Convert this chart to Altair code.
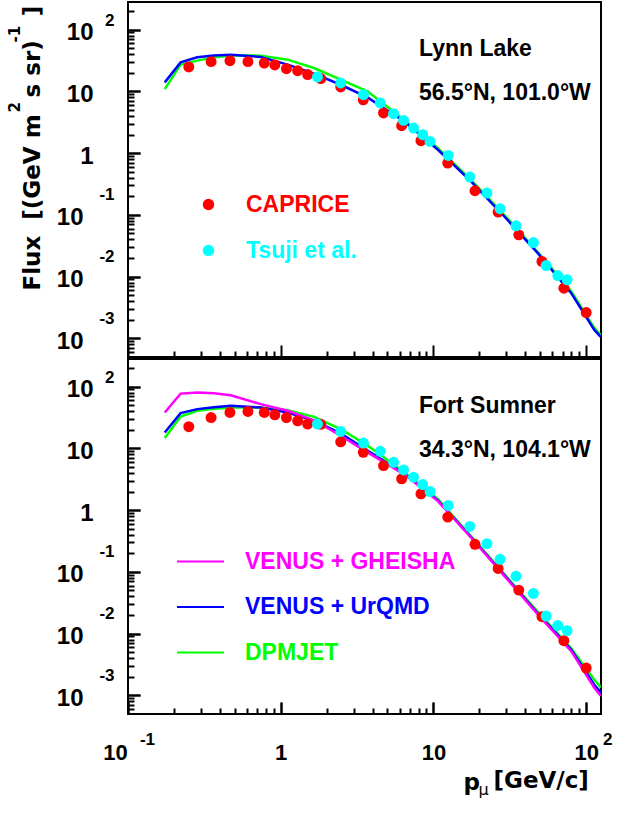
import altair as alt
import pandas as pd

FONT = "Liberation Sans"
TFONT = "DejaVu Sans"

# ---------------- data ----------------
caprice_p = [0.25, 0.35, 0.465, 0.61, 0.78, 0.915, 1.09, 1.29, 1.50, 1.83, 2.47, 3.47,
             4.71, 6.19, 8.28, 12.4, 18.7, 26.5, 36.2, 51.3, 71.4, 100]
caprice_lynn = [24.9, 30.3, 31.4, 30.3, 28.8, 26.8, 23.3, 21.6, 18.7, 16.1, 11.8, 7.3,
                4.47, 2.78, 1.59, 0.690, 0.246, 0.111, 0.0475, 0.0176, 0.00651, 0.00262]
caprice_fort = [22.4, 31.6, 38.1, 39.6, 38.1, 35.0, 31.6, 28.0, 24.8, 24.5, 12.8, 8.62,
                5.26, 3.21, 1.84, 0.771, 0.280, 0.1135, 0.0507, 0.0188, 0.0077, 0.00277]

tsuji_p = [1.74, 2.47, 3.48, 4.48, 5.48, 6.38, 7.41, 8.50, 9.49, 12.5, 17.3, 22.4,
           27.3, 34.7, 45.1, 54.7, 65.2, 75.0]
tsuji_lynn = [17.1, 13.7, 8.84, 6.49, 4.35, 3.39, 2.55, 1.99, 1.55, 0.918, 0.410, 0.226,
              0.126, 0.0666, 0.0357, 0.0151, 0.0104, 0.00888]
tsuji_fort = [24.8, 18.8, 12.2, 8.95, 5.94, 4.48, 3.41, 2.60, 2.00, 1.19, 0.546, 0.287,
              0.160, 0.0853, 0.0448, 0.0193, 0.0135, 0.0112]

model_p = [0.174, 0.221, 0.284, 0.365, 0.47, 0.74, 1.11, 1.65, 2.47, 3.70, 6.44, 10.7,
           17.6, 29.1, 48.2, 79.8, 113, 125]
urqmd_lynn = [14.0, 29.5, 35.6, 38.0, 39.3, 36.1, 27.1, 19.4, 12.8, 8.0, 3.26, 1.135,
              0.348, 0.0942, 0.0240, 0.00541, 0.00137, 0.00105]
dpmjet_lynn = [10.9, 27.1, 31.5, 35.5, 38.5, 37.9, 32.6, 23.9, 15.5, 10.0, 3.45, 1.20,
               0.37, 0.10, 0.025, 0.0058, 0.00148, 0.00112]
gheisha_fort = [38.1, 77.1, 80.0, 78.3, 72.6, 52.0, 40.6, 28.5, 16.0, 8.62, 3.8, 1.40,
                0.36, 0.086, 0.0205, 0.0052, 0.00133, 0.00098]
urqmd_fort = [18.1, 37.2, 43.2, 46.5, 48.8, 45.9, 38.1, 28.0, 17.5, 9.18, 3.87, 1.43,
              0.367, 0.0885, 0.0213, 0.00546, 0.00149, 0.00112]
dpmjet_fort = [14.7, 32.8, 40.6, 44.0, 45.9, 45.9, 41.6, 32.4, 20.6, 11.1, 4.1, 1.50,
               0.38, 0.092, 0.0225, 0.0058, 0.00179, 0.00135]

MODEL_NAMES = ["VENUS + GHEISHA", "VENUS + UrQMD", "DPMJET"]
MODEL_COLORS = ["#ff00ff", "#0000ff", "#00ff00"]
DATA_NAMES = ["CAPRICE", "Tsuji et al."]
DATA_COLORS = ["#ff0000", "#00ffff"]

# ---------------- axes / layout settings ----------------
W, H = 473, 355
MAJ, MIN = 12, 6
xscale = alt.Scale(type="log", domain=[0.1, 125], nice=False)
yscale = alt.Scale(type="log", domain=[5e-4, 280], nice=False)

x_major = [0.1, 1, 10, 100]
x_minor = [m * 10.0 ** k for k in (-1, 0, 1) for m in range(2, 10)]
y_major = [0.001, 0.01, 0.1, 1, 10, 100]
y_minor = [m * 10.0 ** k for k in range(-4, 3) for m in range(2, 10)
           if 5e-4 < m * 10.0 ** k < 280]

EXP = "round(log(datum.value)/LN10)"
common = dict(grid=False, domain=False, labelFlush=False, labelOverlap=False,
              labelBound=False, titleColor="black", labelColor="black",
              tickColor="black", tickWidth=2)


def ttl(t):
    if t is None:
        return dict(title=None)
    text, x, y, size, weight, angle = t
    return dict(title=text, titleX=x, titleY=y, titleFont=TFONT, titleFontSize=size,
                titleFontWeight=weight, titleAlign="left", titleBaseline="alphabetic",
                titleAngle=angle)


def y_main(t=None):
    # inward major ticks: axis line shifted into the frame by the tick length
    return alt.Axis(orient="left", offset=-MAJ, values=y_major,
                    labelExpr=f"{EXP} == 0 ? '1' : '10'",
                    labelFont=FONT, labelFontSize=24, labelFontWeight="bold",
                    labelAlign="right", labelBaseline="middle",
                    labelPadding={"condition": {"test": "datum.value < 1", "value": 45}, "value": 35},
                    labelOffset=3, ticks=True, tickSize=MAJ, **common, **ttl(t))


def y_exp(t=None):
    return alt.Axis(orient="left", values=[0.001, 0.01, 0.1, 100],
                    labelExpr=f"'' + {EXP}",
                    labelFont=FONT, labelFontSize=17, labelFontWeight="bold",
                    labelAlign="right", labelBaseline="middle", labelPadding=14,
                    labelOffset={"condition": {"test": "datum.value > 1", "value": -9}, "value": -20},
                    ticks=False, tickSize=0, **common, **ttl(t))


def y_ticks(vals, size, t=None):
    return alt.Axis(orient="left", offset=-size, values=vals, labels=False,
                    ticks=True, tickSize=size, **common, **ttl(t))


def x_ticks(vals, size, t=None):
    return alt.Axis(orient="bottom", offset=-size, values=vals, labels=False,
                    ticks=True, tickSize=size, **common, **ttl(t))


x_main = alt.Axis(orient="bottom", offset=-MAJ, values=x_major,
                  labelExpr=f"{EXP} == 0 ? '1' : '10'",
                  labelFont=FONT, labelFontSize=22, labelFontWeight="bold",
                  labelAlign="center", labelBaseline="alphabetic", labelPadding=45,
                  labelOffset={"condition": {"test": "datum.value < 1", "value": -13}, "value": 0},
                  ticks=True, tickSize=MAJ, **common, **ttl(("p", 335, 75 + MAJ, 23, "bold", 0)))
x_exp = alt.Axis(orient="bottom", values=[0.1, 100],
                 labelExpr=f"'' + {EXP}",
                 labelFont=FONT, labelFontSize=17, labelFontWeight="bold",
                 labelAlign="center", labelBaseline="alphabetic", labelPadding=30,
                 labelOffset={"condition": {"test": "datum.value < 1", "value": 19}, "value": 21},
                 ticks=False, tickSize=0, **common, **ttl(("\u03bc", 350, 80, 16, "normal", 0)))

lab_pts = "datum.label == 'CAPRICE' ? '#ff0000' : '#00ffff'"
lab_lines = ("datum.label == 'VENUS + GHEISHA' ? '#ff00ff' : "
             "datum.label == 'VENUS + UrQMD' ? '#0000ff' : '#00ff00'")

pts_legend = alt.Legend(orient="none", legendX=69, legendY=191, title=None,
                        symbolType="circle", symbolSize=130, symbolOpacity=1,
                        symbolStrokeWidth=0, labelFont=FONT, labelFontSize=23,
                        labelFontWeight="bold", labelColor={"expr": lab_pts},
                        labelOffset=26, rowPadding=22, padding=0, labelLimit=400)
line_legend = alt.Legend(orient="none", legendX=48, legendY=178, title=None,
                         symbolType="stroke", symbolSize=2209, symbolStrokeWidth=2,
                         labelFont=FONT, labelFontSize=23, labelFontWeight="bold",
                         labelColor={"expr": lab_lines}, labelOffset=20,
                         rowPadding=8.5, padding=0, labelLimit=400)


def line_layer(name, vals, xax, yax, legend):
    df = pd.DataFrame({"p": model_p, "flux": vals, "model": name})
    return alt.Chart(df).mark_line(strokeWidth=2.5, clip=True).encode(
        x=alt.X("p:Q", scale=xscale, axis=xax),
        y=alt.Y("flux:Q", scale=yscale, axis=yax),
        stroke=alt.Stroke("model:N", scale=alt.Scale(domain=MODEL_NAMES, range=MODEL_COLORS),
                          legend=legend),
    )


def point_layer(name, ps, vals, xax, yax, legend):
    df = pd.DataFrame({"p": ps, "flux": vals, "series": name})
    return alt.Chart(df).mark_circle(size=120, opacity=1).encode(
        x=alt.X("p:Q", scale=xscale, axis=xax),
        y=alt.Y("flux:Q", scale=yscale, axis=yax),
        color=alt.Color("series:N", scale=alt.Scale(domain=DATA_NAMES, range=DATA_COLORS),
                        legend=legend),
    )


def site_title(name, coords):
    return alt.TitleParams(text=name, subtitle=coords, anchor="start", frame="group",
                           orient="top", offset=0, dx=291, dy=103,
                           font=FONT, fontSize=23, fontWeight="bold", color="black",
                           subtitleFont=FONT, subtitleFontSize=23, subtitleFontWeight="bold",
                           subtitleColor="black", subtitlePadding=21)


top = alt.layer(
    line_layer("DPMJET", dpmjet_lynn, x_ticks(x_major, MAJ),
               y_main(("Flux\u00a0 [(GeV m", -89 - MAJ, 288, 23, "bold", 270)), None),
    line_layer("VENUS + UrQMD", urqmd_lynn, x_ticks(x_minor, MIN),
               y_exp(("2", -109, 110, 15, "bold", 270)), None),
    point_layer("CAPRICE", caprice_p, caprice_lynn, None,
                y_ticks(y_minor, MIN, ("s sr)\u00a0\u00a0\u00a0]", -89 - MIN, 95, 23, "bold", 270)),
                pts_legend),
    point_layer("Tsuji et al.", tsuji_p, tsuji_lynn, None,
                y_ticks(y_major, MAJ, ("-1", -109 - MAJ, 40, 15, "bold", 270)), pts_legend),
).resolve_axis(x="independent", y="independent").properties(
    width=W, height=H, title=site_title("Lynn Lake", "56.5\u00b0N, 101.0\u00b0W"))

bottom = alt.layer(
    line_layer("DPMJET", dpmjet_fort, x_main, y_main(), line_legend),
    line_layer("VENUS + UrQMD", urqmd_fort, x_exp, y_exp(), line_legend),
    line_layer("VENUS + GHEISHA", gheisha_fort,
               x_ticks(x_major, MAJ, ("[GeV/c]", 365, 73 + MAJ, 23, "bold", 0)),
               y_ticks(y_major, MAJ), line_legend),
    point_layer("CAPRICE", caprice_p, caprice_fort, x_ticks(x_minor, MIN),
                y_ticks(y_minor, MIN), None),
    point_layer("Tsuji et al.", tsuji_p, tsuji_fort, None, None, None),
).resolve_axis(x="independent", y="independent").properties(
    width=W, height=H, title=site_title("Fort Sumner", "34.3\u00b0N, 104.1\u00b0W"))

chart = alt.vconcat(top, bottom, spacing=-2).resolve_scale(
    color="independent", stroke="independent"
).configure_view(stroke="black", strokeWidth=2).properties(
    padding={"left": 6, "top": 1, "right": 0, "bottom": 0}, background="white")

chart.save("out.html", embed_options={"renderer": "svg", "actions": False})
